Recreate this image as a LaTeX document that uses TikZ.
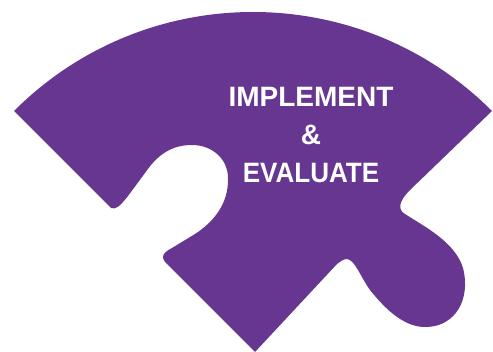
\documentclass[tikz,border=0pt]{standalone}
\usepackage{fontspec}
\setmainfont{Liberation Sans}
\definecolor{piece}{RGB}{103,54,145}
\begin{document}
\begin{tikzpicture}[x=1pt,y=1pt,
  lbl/.style={text=white,font=\bfseries\fontsize{28}{30}\selectfont,anchor=base,inner sep=0pt}]
\useasboundingbox (0,0) rectangle (493,-352);
% puzzle piece
\fill[piece]
  (14,-111) arc[start angle=135,end angle=45,radius=338]
  -- (410,-190)
  .. controls (398,-202) and (398,-210) .. (405,-214)
  .. controls (425,-227) and (455,-242) .. (463,-268)
  .. controls (471,-300) and (455,-326) .. (427,-327)
  .. controls (405,-328) and (386,-310) .. (370,-290)
  .. controls (360,-276) and (355,-260) .. (347,-259)
  .. controls (343,-259) and (340,-262) .. (337,-264)
  -- (255,-352)
  -- (168,-265)
  .. controls (160,-258) and (162,-253) .. (172,-248)
  -- (195,-234)
  .. controls (215,-221) and (228,-203) .. (228,-180)
  .. controls (229,-160) and (213,-145) .. (192,-145)
  .. controls (172,-145) and (158,-154) .. (145,-173)
  -- (128,-196)
  .. controls (120,-206) and (116,-210) .. (111,-208)
  -- cycle;
\node[lbl] (t1) at (311,-107) {IMPLEMENT};
\node[lbl] (t2) at (311,-145) {\&};
\node[lbl] (t3) at (311,-183) {\scalebox{0.93}[1]{EVALUATE}};
\end{tikzpicture}
\end{document}
